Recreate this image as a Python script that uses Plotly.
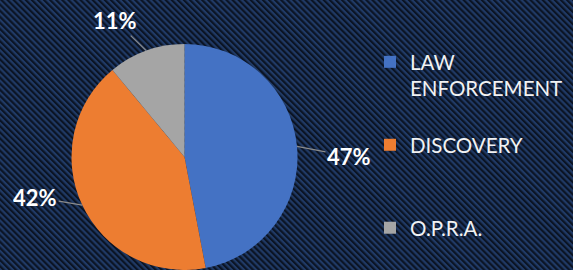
import base64
import math
import plotly.graph_objects as go

# ---- data ----
categories = ["LAW ENFORCEMENT", "DISCOVERY", "O.P.R.A."]
values = [47, 42, 11]
pct_labels = ["47%", "42%", "11%"]

# ---- style ----
colors = ["#4472C4", "#ED7D31", "#A5A5A5"]
legend_text = ["LAW<br>ENFORCEMENT<br> ", "DISCOVERY<br> <br> ", "O.P.R.A."]
W, H = 573, 270
pie_left, pie_right, pie_top = 71, 298, 44
label_offsets = [(52, 10), (-47, -8), (-31, -30)]  # text offset from slice edge (px)

# striped background as inline SVG
svg = f'''<svg xmlns="http://www.w3.org/2000/svg" width="{W}" height="{H}">
<defs><pattern id="p" width="4.3" height="4.3" patternUnits="userSpaceOnUse" patternTransform="rotate(-45)">
<rect width="2.15" height="4.3" fill="#0b1424"/></pattern></defs>
<rect width="{W}" height="{H}" fill="#203a66"/>
<rect width="{W}" height="{H}" fill="url(#p)"/></svg>'''
bg_src = "data:image/svg+xml;base64," + base64.b64encode(svg.encode()).decode()

dom_x = [pie_left / W, pie_right / W]
dom_y = [0, 1 - pie_top / H]

fig = go.Figure(go.Pie(
    labels=legend_text,
    values=values,
    sort=False,
    direction="clockwise",
    rotation=0,
    marker=dict(colors=colors, line=dict(width=0)),
    textinfo="none",
    hoverinfo="label+percent",
    domain=dict(x=dom_x, y=dom_y),
))

# pie geometry in pixels (from the domain)
dw = (dom_x[1] - dom_x[0]) * W
dh = (dom_y[1] - dom_y[0]) * H
r = min(dw, dh) / 2
cx = (dom_x[0] + dom_x[1]) / 2 * W
cy = H - (dom_y[0] + dom_y[1]) / 2 * H

total = sum(values)
start = 0.0
annotations = []
for v, lab, (ox, oy) in zip(values, pct_labels, label_offsets):
    span = v / total * 360
    mid = math.radians(start + span / 2)
    start += span
    px = cx + r * math.sin(mid)
    py = cy - r * math.cos(mid)
    annotations.append(dict(
        x=px / W, y=1 - py / H, xref="paper", yref="paper",
        text=f"<b>{lab}</b>", showarrow=True, arrowhead=0, arrowwidth=1.2,
        arrowcolor="#8c8c8c", ax=ox, ay=oy, standoff=0,
        font=dict(family="Lato", size=22, color="#ffffff"),
    ))

fig.update_layout(
    width=W, height=H,
    margin=dict(l=0, r=0, t=0, b=0),
    paper_bgcolor="#1f3864",
    images=[dict(source=bg_src, xref="paper", yref="paper", x=0, y=1,
                 sizex=1, sizey=1, sizing="stretch", xanchor="left",
                 yanchor="top", layer="below")],
    showlegend=True,
    legend=dict(x=370 / W, xanchor="left", y=1 - 42 / H, yanchor="top",
                valign="top", bgcolor="rgba(0,0,0,0)",
                font=dict(family="Lato", size=20.5, color="#f2f2f2")),
    annotations=annotations,
)

fig.write_html("out.html", config={"displayModeBar": False},
               post_script="document.body.style.margin='0';document.body.style.overflow='hidden';")
